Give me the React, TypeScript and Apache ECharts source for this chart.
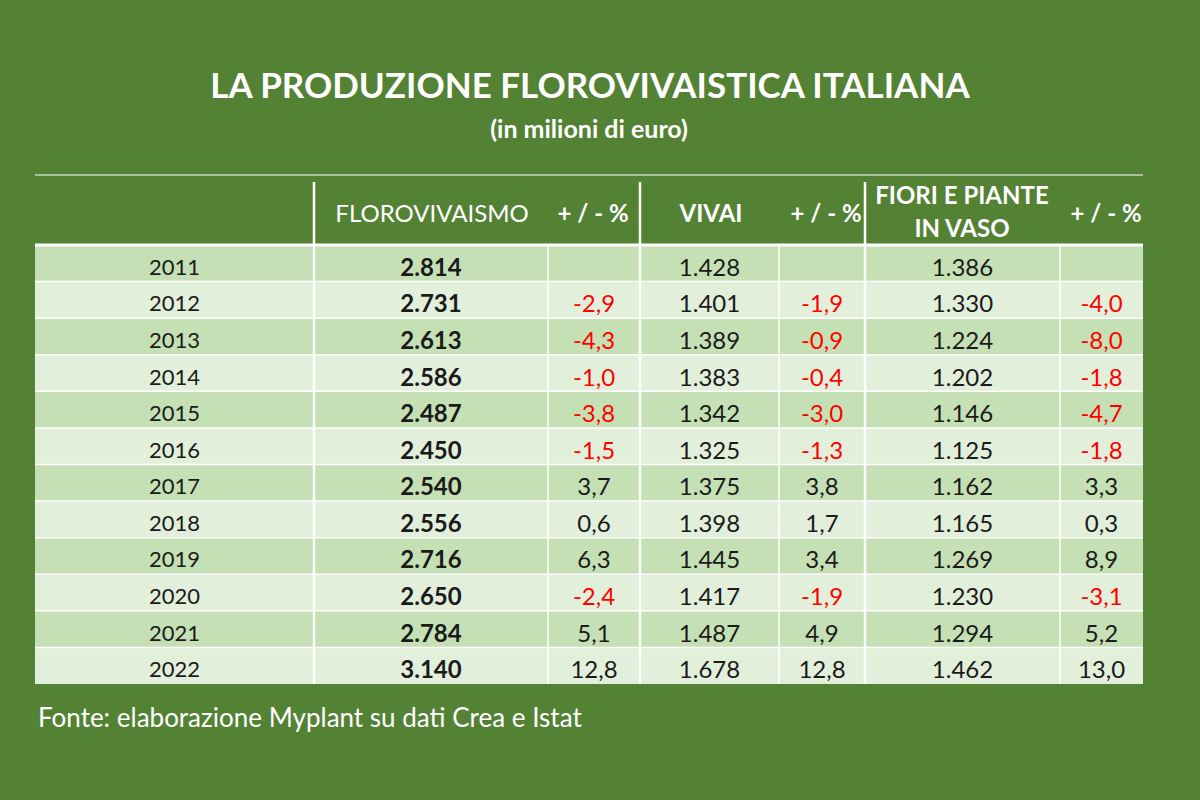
import React, { useEffect, useRef } from "react";
import * as echarts from "echarts";

const years = ["2011", "2012", "2013", "2014", "2015", "2016", "2017", "2018", "2019", "2020", "2021", "2022"];
const florovivaismo = [2814, 2731, 2613, 2586, 2487, 2450, 2540, 2556, 2716, 2650, 2784, 3140];
const florovivaismoVar = [null, -2.9, -4.3, -1.0, -3.8, -1.5, 3.7, 0.6, 6.3, -2.4, 5.1, 12.8];
const vivai = [1428, 1401, 1389, 1383, 1342, 1325, 1375, 1398, 1445, 1417, 1487, 1678];
const vivaiVar = [null, -1.9, -0.9, -0.4, -3.0, -1.3, 3.8, 1.7, 3.4, -1.9, 4.9, 12.8];
const fiori = [1386, 1330, 1224, 1202, 1146, 1125, 1162, 1165, 1269, 1230, 1294, 1462];
const fioriVar = [null, -4.0, -8.0, -1.8, -4.7, -1.8, 3.3, 0.3, 8.9, -3.1, 5.2, 13.0];

const title = "LA PRODUZIONE FLOROVIVAISTICA ITALIANA";
const subtitle = "(in milioni di euro)";
const source = "Fonte: elaborazione Myplant su dati Crea e Istat";

// layout (column edges in axis units = pixels from grid left)
const COL_EDGES = [0, 279, 513, 605, 744, 830, 1025, 1108];
const THICK_COLS = [1, 3, 5];

const BG = "#548235";
const ROW_A = "#C5E0B4";
const ROW_B = "#E2EFDA";
const FONT = "Lato, 'Open Sans', sans-serif";

const fmtInt = (v: number) => {
  const s = String(v);
  return s.length > 3 ? s.slice(0, s.length - 3) + "." + s.slice(s.length - 3) : s;
};
const fmtPct = (v: number | null) => (v === null ? "" : v.toFixed(1).replace(".", ","));

export default function App() {
  const ref = useRef<HTMLDivElement>(null);
  useEffect(() => {
    if (!ref.current) return;
    const chart = echarts.init(ref.current, null, { renderer: "svg" });

    const cells: any[] = [];
    years.forEach((y, r) => {
      const cols = [
        { t: y, red: false, bold: false },
        { t: fmtInt(florovivaismo[r]), red: false, bold: true },
        { t: fmtPct(florovivaismoVar[r]), red: (florovivaismoVar[r] ?? 0) < 0, bold: false },
        { t: fmtInt(vivai[r]), red: false, bold: false },
        { t: fmtPct(vivaiVar[r]), red: (vivaiVar[r] ?? 0) < 0, bold: false },
        { t: fmtInt(fiori[r]), red: false, bold: false },
        { t: fmtPct(fioriVar[r]), red: (fioriVar[r] ?? 0) < 0, bold: false },
      ];
      cols.forEach((c, ci) => {
        cells.push({ value: [ci, r], text: c.t, red: c.red, bold: c.bold });
      });
    });

    const renderItem = (params: any, api: any) => {
      const ci = api.value(0);
      const r = api.value(1);
      const item = cells[params.dataIndex];
      const left = api.coord([COL_EDGES[ci], r]);
      const right = api.coord([COL_EDGES[ci + 1], r]);
      const h = api.size([0, 1])[1];
      const top = left[1] - h / 2;
      const x0 = left[0];
      const x1 = right[0];
      const children: any[] = [
        {
          type: "rect",
          shape: { x: x0, y: top, width: x1 - x0, height: h },
          style: { fill: r % 2 === 0 ? ROW_A : ROW_B },
        },
        {
          type: "line",
          shape: { x1: x0, y1: top, x2: x1, y2: top },
          style: { stroke: "#fff", lineWidth: r === 0 ? 3 : 1.5 },
        },
      ];
      if (ci > 0) {
        children.push({
          type: "line",
          shape: { x1: x0, y1: top, x2: x0, y2: top + h },
          style: { stroke: "#fff", lineWidth: THICK_COLS.includes(ci) ? 2.5 : 1.5 },
        });
      }
      children.push({
        type: "text",
        style: {
          text: item.text,
          x: (x0 + x1) / 2,
          y: left[1] + 3,
          align: "center",
          verticalAlign: "middle",
          fill: item.red ? "#FF0000" : "#1a1a1a",
          font: `${item.bold ? "bold " : ""}${ci === 0 ? 22 : 24}px ${FONT}`,
        },
      });
      return { type: "group", children };
    };

    const headerY = 212;
    const headerText = (text: string, x: number, y: number, bold: boolean) => ({
      type: "text",
      x,
      y,
      style: {
        text,
        fill: "#fff",
        font: `${bold ? "bold " : ""}24px ${FONT}`,
        align: "center",
        verticalAlign: "middle",
      },
    });
    const vline = (x: number) => ({
      type: "line",
      shape: { x1: x, y1: 182, x2: x, y2: 245 },
      style: { stroke: "#fff", lineWidth: 2.5 },
    });

    chart.setOption({
      animation: false,
      backgroundColor: BG,
      grid: { left: 35, top: 245, width: 1108, height: 439 },
      xAxis: { type: "value", min: 0, max: 1108, show: false },
      yAxis: { type: "category", data: years, inverse: true, show: false },
      series: [
        {
          type: "custom",
          renderItem,
          data: cells.map((c) => c.value),
          encode: { x: 0, y: 1 },
          clip: false,
        },
      ],
      graphic: [
        {
          type: "text",
          x: 590,
          y: 84,
          style: { text: title, fill: "#fff", font: `bold 35px ${FONT}`, align: "center", verticalAlign: "middle" },
        },
        {
          type: "text",
          x: 589,
          y: 128,
          style: { text: subtitle, fill: "#fff", font: `bold 25px ${FONT}`, align: "center", verticalAlign: "middle" },
        },
        {
          type: "line",
          shape: { x1: 35, y1: 175, x2: 1143, y2: 175 },
          style: { stroke: "#fff", lineWidth: 1.2 },
        },
        vline(314),
        vline(640),
        vline(865),
        headerText("FLOROVIVAISMO", 432, headerY, false),
        headerText("+ / - %", 593, headerY, true),
        headerText("VIVAI", 711, headerY, true),
        headerText("+ / - %", 826, headerY, true),
        headerText("FIORI E PIANTE", 962, 194, true),
        headerText("IN VASO", 962, 227, true),
        headerText("+ / - %", 1106, headerY, true),
        {
          type: "text",
          x: 38,
          y: 717,
          style: { text: source, fill: "#fff", font: `26px ${FONT}`, align: "left", verticalAlign: "middle" },
        },
      ],
    });
    return () => chart.dispose();
  }, []);
  return <div ref={ref} style={{ width: 1200, height: 800, position: "fixed", left: 0, top: 0 }} />;
}
